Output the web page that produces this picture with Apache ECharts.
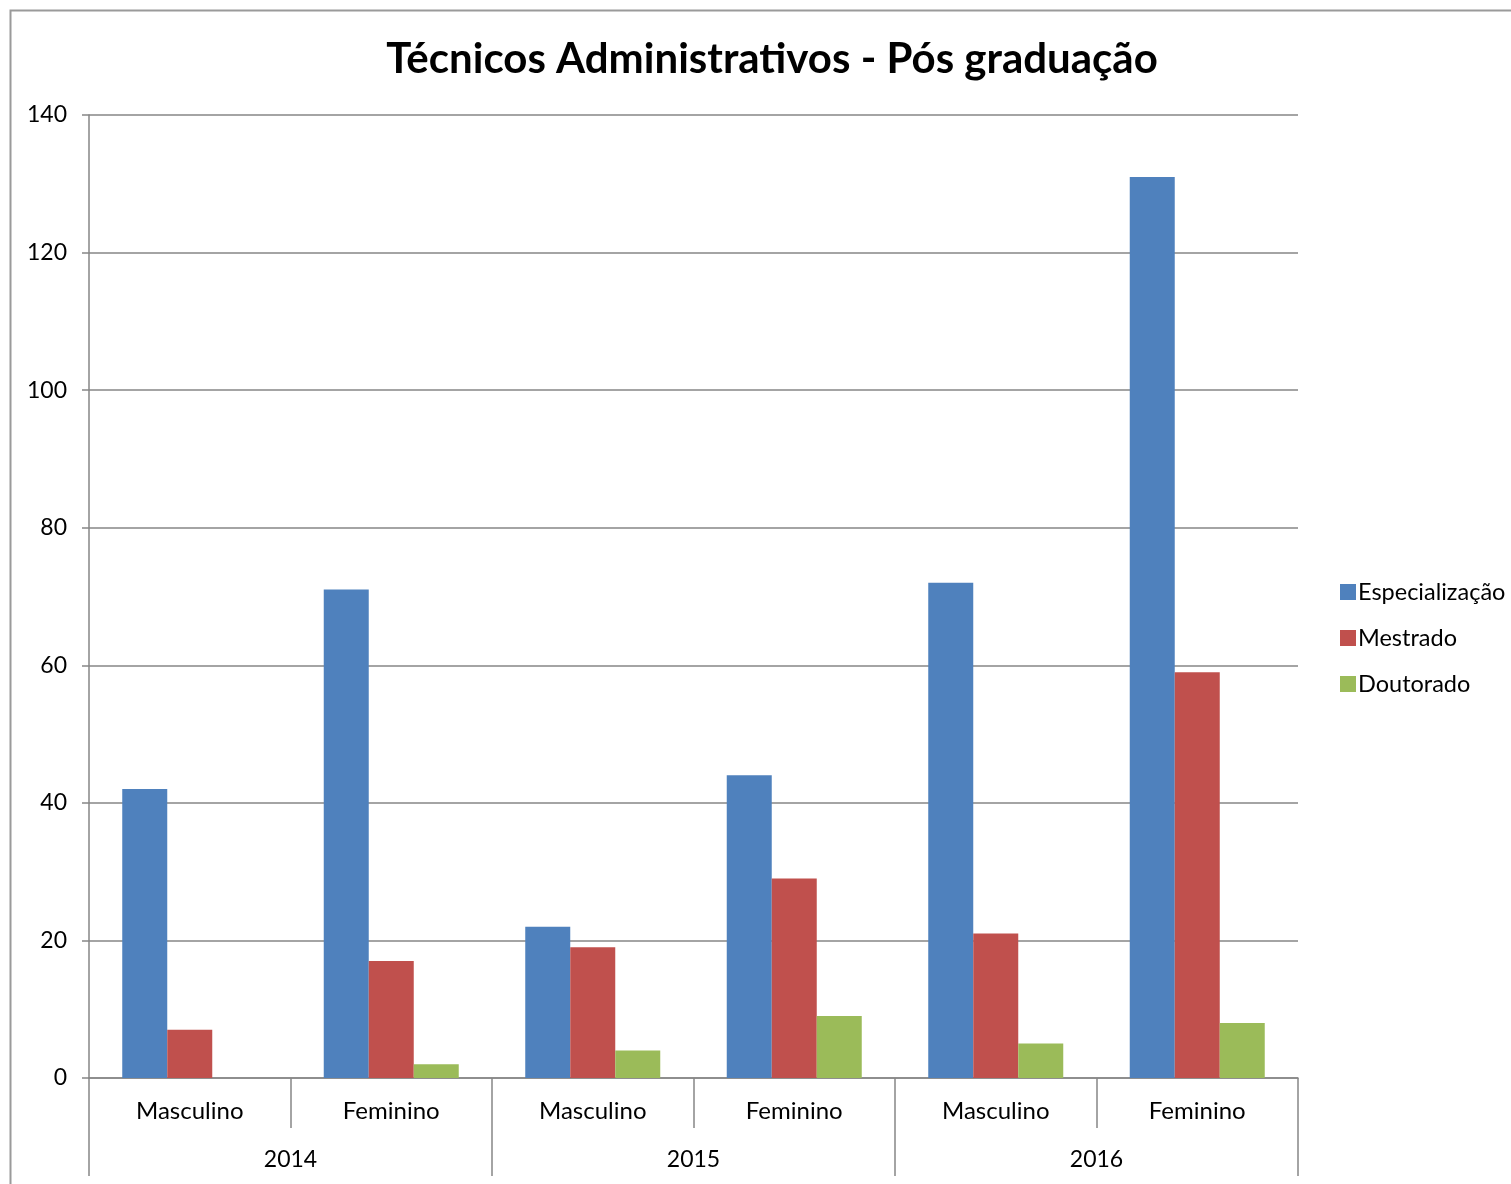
<!DOCTYPE html>
<html>

<head>
    <meta charset="utf-8">
</head>

<body style="height: 100%; margin: 0; background: #fff">
    <div id="container" style="width: 1511px; height: 1184px"></div>
    <script type="text/javascript" src="https://cdn.jsdelivr.net/npm/echarts@6/dist/echarts.min.js"></script>
    <script>
        var categories = ['Masculino', 'Feminino', 'Masculino', 'Feminino', 'Masculino', 'Feminino']
        var years = ['2014', '2015', '2016']
        var especializacao = [42, 71, 22, 44, 72, 131]
        var mestrado = [7, 17, 19, 29, 21, 59]
        var doutorado = [0, 2, 4, 9, 5, 8]
        var yTicks = [0, 20, 40, 60, 80, 100, 120, 140]

        var font = 'Lato, "Open Sans", sans-serif'
        var lineColor = '#868686'

        var myChart = echarts.init(document.getElementById('container'))
        var option = {
            animation: false,
            backgroundColor: '#fff',
            title: {
                text: 'Técnicos Administrativos - Pós graduação',
                left: 767,
                textAlign: 'center',
                top: 33,
                textStyle: { fontFamily: font, fontSize: 42, fontWeight: 'bold', color: '#000' }
            },
            graphic: [{
                type: 'rect',
                shape: { x: 10.5, y: 10.5, width: 1700, height: 1400 },
                style: { fill: 'none', stroke: '#9a9a9a', lineWidth: 2 }
            }],
            legend: {
                orient: 'vertical',
                left: 1335,
                top: 575,
                itemWidth: 16,
                itemHeight: 16,
                itemGap: 22,
                icon: 'rect',
                textStyle: { fontFamily: font, fontSize: 23.5, color: '#000', padding: [0, 0, 0, -3] },
                data: ['Especialização', 'Mestrado', 'Doutorado']
            },
            grid: { left: 89, right: 213, top: 115, bottom: 106, containLabel: false },
            xAxis: [{
                type: 'category',
                data: categories,
                position: 'bottom',
                axisLine: { lineStyle: { color: lineColor, width: 1.5 } },
                axisTick: { show: true, interval: 0, length: 50, lineStyle: { color: lineColor, width: 1.5 } },
                axisLabel: { interval: 0, margin: 21, fontFamily: font, fontSize: 24, color: '#000' }
            }, {
                type: 'category',
                data: years,
                position: 'bottom',
                axisLine: { show: false },
                axisTick: { show: true, interval: 0, length: 98, lineStyle: { color: lineColor, width: 1.5 } },
                axisLabel: { interval: 0, margin: 70, fontFamily: font, fontSize: 23, color: '#000' }
            }],
            yAxis: {
                type: 'value',
                min: 0,
                max: 140,
                interval: 20,
                axisLine: { show: true, lineStyle: { color: lineColor, width: 1.5 } },
                axisTick: { show: true, length: 7, lineStyle: { color: lineColor, width: 1.5 } },
                axisLabel: {
                    margin: 22, fontFamily: font, fontSize: 23, color: '#000',
                    formatter: function (v) { return yTicks.indexOf(v) >= 0 ? String(v) : '' }
                },
                splitLine: { lineStyle: { color: lineColor, width: 1.5 } }
            },
            series: [{
                name: 'Especialização',
                type: 'bar',
                data: especializacao,
                barGap: 0,
                barCategoryGap: '33%',
                itemStyle: { color: '#4F81BD' }
            }, {
                name: 'Mestrado',
                type: 'bar',
                data: mestrado,
                itemStyle: { color: '#C0504D' }
            }, {
                name: 'Doutorado',
                type: 'bar',
                data: doutorado,
                itemStyle: { color: '#9BBB59' }
            }]
        }
        myChart.setOption(option)
    </script>

</body>

</html>
